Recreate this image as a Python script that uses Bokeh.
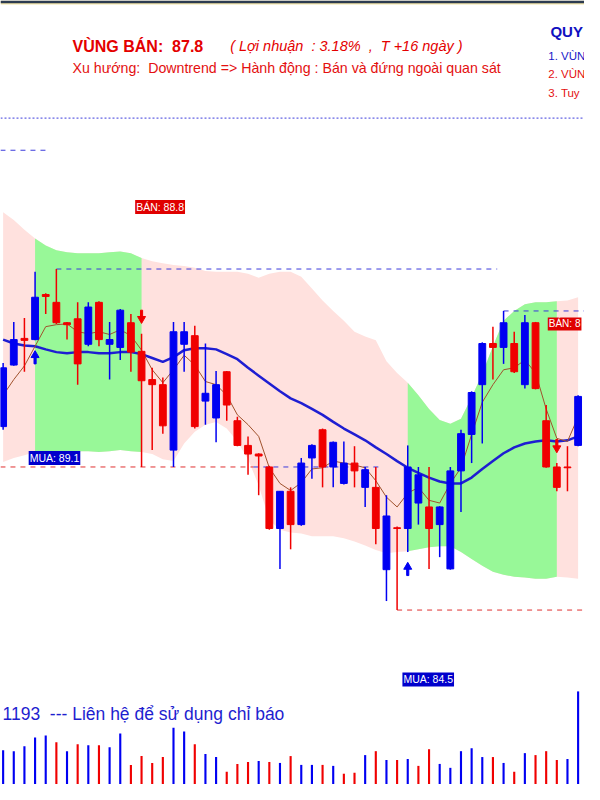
from bokeh.plotting import figure
from bokeh.models import Range1d, Label, Span, BoxAnnotation, ColumnDataSource
from bokeh.embed import file_html
from bokeh.resources import INLINE

# ---------------- data ----------------
opens = [85.53, 87.10, 87.78, 87.75, 88.90, 88.70, 88.18, 88.28, 87.63, 88.70,
         87.63, 87.55, 88.18, 87.45, 86.73, 86.60, 84.93, 87.63, 87.85, 86.18,
         85.75, 86.93, 85.68, 85.05, 84.83, 84.50, 82.93, 83.88, 83.03, 84.73,
         85.45, 84.50, 84.08, 84.60, 83.98, 83.98, 81.88, 82.95, 82.93, 83.58,
         83.48, 83.03, 81.90, 84.40, 85.33, 86.60, 87.65, 87.55, 87.65, 86.60,
         88.18, 85.68, 84.50, 84.50, 85.05]
highs = [87.15, 88.20, 88.30, 89.48, 88.93, 89.55, 88.20, 88.70, 88.70, 88.73,
         88.20, 88.53, 88.40, 87.90, 87.03, 86.78, 88.20, 88.20, 88.10, 87.65,
         86.95, 86.95, 85.78, 85.28, 84.85, 84.53, 83.88, 83.98, 84.73, 85.08,
         85.48, 85.15, 85.15, 85.03, 84.50, 84.50, 83.78, 82.98, 85.05, 84.50,
         84.50, 83.50, 84.50, 85.45, 86.43, 87.68, 88.08, 88.48, 87.95, 88.38,
         88.20, 86.08, 84.60, 85.03, 86.33]
lows = [85.45, 87.08, 86.93, 87.73, 88.40, 88.15, 87.75, 86.60, 87.58, 87.58,
        86.73, 87.23, 86.93, 84.50, 84.93, 85.35, 84.50, 86.93, 85.48, 85.58,
        85.13, 85.68, 85.03, 84.30, 83.78, 82.90, 81.90, 82.40, 83.00, 84.20,
        83.98, 83.98, 84.05, 83.98, 83.48, 82.53, 81.08, 80.85, 82.33, 83.03,
        81.90, 82.20, 81.88, 83.35, 84.60, 85.10, 86.73, 87.13, 86.90, 86.50,
        86.48, 84.48, 83.88, 83.88, 85.03]
closes = [87.03, 87.75, 87.73, 88.83, 88.85, 88.18, 88.13, 87.13, 88.58, 87.75,
          87.75, 88.50, 87.43, 86.70, 86.60, 85.55, 87.95, 87.95, 85.53, 86.38,
          86.60, 86.08, 85.05, 84.83, 84.78, 82.93, 83.88, 83.03, 84.60, 85.05,
          84.50, 85.13, 84.60, 84.40, 84.43, 82.93, 83.25, 82.93, 84.50, 84.30,
          82.93, 83.48, 84.40, 85.35, 86.40, 87.65, 87.55, 88.18, 86.93, 88.18,
          86.50, 84.50, 83.98, 84.48, 86.30]
ma_fast = [86.33, 86.73, 87.08, 87.58, 88.08, 88.13, 88.15, 87.95, 87.90, 87.95,
           87.88, 88.00, 87.85, 87.48, 86.98, 86.65, 86.98, 87.35, 87.10, 86.68,
           86.60, 86.33, 85.83, 85.58, 85.28, 84.48, 84.08, 83.90, 84.10, 84.45,
           84.48, 84.65, 84.60, 84.55, 84.48, 84.15, 83.73, 83.48, 83.83, 83.98,
           83.65, 83.58, 84.08, 84.48, 85.33, 86.15, 86.60, 86.98, 87.03, 87.23,
           86.90, 85.98, 85.23, 85.15, 85.78]
ma_slow = [87.75, 87.65, 87.60, 87.58, 87.50, 87.43, 87.40, 87.43, 87.43, 87.40,
           87.40, 87.43, 87.43, 87.38, 87.28, 87.18, 87.30, 87.48, 87.53, 87.53,
           87.50, 87.38, 87.25, 87.03, 86.83, 86.63, 86.43, 86.25, 86.13, 85.98,
           85.83, 85.65, 85.48, 85.33, 85.18, 85.00, 84.83, 84.65, 84.48, 84.35,
           84.23, 84.13, 84.08, 84.08, 84.23, 84.45, 84.65, 84.85, 85.00, 85.10,
           85.15, 85.18, 85.15, 85.18, 85.28]
band_upper = [91.00, 90.80, 90.55, 90.33, 90.15, 90.03, 89.98, 89.95, 89.95, 89.95,
              89.98, 90.00, 89.95, 89.83, 89.75, 89.70, 89.65, 89.63, 89.58, 89.50,
              89.48, 89.48, 89.48, 89.43, 89.33, 89.43, 89.48, 89.48, 89.35, 89.05,
              88.75, 88.48, 88.23, 87.95, 87.83, 87.73, 87.20, 86.90, 86.65, 86.33,
              85.98, 85.70, 85.60, 85.73, 86.28, 86.88, 87.58, 88.23, 88.48, 88.65,
              88.70, 88.70, 88.73, 88.75, 88.83]
band_lower = [84.63, 84.73, 84.80, 84.88, 84.90, 84.88, 84.88, 84.90, 84.90, 84.88,
              84.90, 84.93, 84.90, 84.88, 84.83, 84.70, 84.65, 85.10, 85.40, 85.58,
              85.65, 85.48, 85.15, 84.70, 84.03, 83.15, 82.90, 82.83, 82.80, 82.73,
              82.73, 82.73, 82.68, 82.60, 82.50, 82.38, 82.30, 82.33, 82.35, 82.40,
              82.45, 82.48, 82.48, 82.33, 82.15, 81.98, 81.83, 81.75, 81.70, 81.68,
              81.65, 81.65, 81.70, 81.68, 81.65]
volume = [350, 340, 390, 480, 500, 430, 340, 410, 400, 400,
          380, 520, 200, 290, 220, 280, 580, 540, 410, 310,
          280, 130, 210, 230, 240, 230, 220, 290, 200, 200,
          200, 190, 110, 120, 300, 340, 250, 250, 260, 190,
          360, 210, 170, 340, 370, 280, 280, 220, 130, 320,
          300, 340, 250, 260, 950]
vol_up = [1, 1, 1, 1, 1, 0, 1, 0, 1, 0,
          1, 1, 0, 0, 0, 0, 1, 1, 0, 1,
          1, 0, 0, 0, 1, 0, 1, 0, 1, 1,
          0, 1, 0, 0, 1, 0, 1, 0, 1, 0,
          0, 1, 1, 1, 1, 1, 0, 1, 0, 1,
          0, 0, 0, 1, 1]

buy_bars = [3, 38]
buy_prices = [89.1, 84.5]
sell_bars = [13, 52]
sell_prices = [88.8, 87.8]

# horizontal level lines: level, from bar, to bar, colour
level_vals = [92.58, 89.55, 88.48, 84.50, 84.50, 80.85]
level_from = [-0.25, 5, 47, -0.25, 23.5, 37]
level_to = [4.3, 46.4, 54.6, 23.5, 35.4, 54.6]
level_col = ["blue", "blue", "blue", "red", "blue", "red"]
top_line = 93.4

NB = "\u00a0"
header_title = f"VÙNG BÁN:{NB}{NB}87.8"
header_profit = f"({NB}Lợi nhuận{NB}{NB}:{NB}3.18%{NB}{NB},{NB}{NB}T{NB}+16 ngày{NB})"
header_trend = f"Xu hướng:{NB}{NB}Downtrend => Hành động : Bán và đứng ngoài quan sát"
rules_title = "QUY"
rules = ["1. VÙN", "2. VÙN", "3. Tuy"]
footer = f"1193{NB}{NB}--- Liên hệ để sử dụng chỉ báo"
last_tag = "BÁN: 8"

# ---------------- styling ----------------
BLUE = "#0000F2"
RED = "#F00000"
PINK = "#FFE1DE"
GREEN = "#98F898"
FONT = "Liberation Sans"
col = {"blue": "#3A3ADC", "red": "#E03030"}
dy = 0.15  # text lift

n = len(opens)
idx = list(range(n))

p = figure(width=584, height=784, output_backend="svg", toolbar_location=None,
           x_range=Range1d(-0.247, 54.6), y_range=Range1d(76.4, 96.4),
           x_axis_type=None, y_axis_type=None, min_border=0,
           background_fill_color="white", border_fill_color="white",
           outline_line_color=None)
p.xgrid.visible = False
p.ygrid.visible = False
p.extra_y_ranges = {"vol": Range1d(0, 8000)}

# top window border
p.add_layout(BoxAnnotation(bottom=96.30, fill_color="#F3E6A8", fill_alpha=1, line_alpha=0))
p.add_layout(BoxAnnotation(bottom=96.33, fill_color="#2C3B50", fill_alpha=1, line_alpha=0))
p.add_layout(Span(location=top_line, dimension="width", line_color="#3C3CDC",
                  line_dash="2 2", line_width=1))

# band
p.varea(x=idx, y1=band_lower, y2=band_upper, fill_color=PINK)
for b, s in zip(buy_bars, sell_bars):
    p.varea(x=idx[b:s + 1], y1=band_lower[b:s + 1], y2=band_upper[b:s + 1], fill_color=GREEN)

# level lines
for v, a, z, c in zip(level_vals, level_from, level_to, level_col):
    p.segment(x0=[a], y0=[v], x1=[z], y1=[v], line_color=col[c], line_dash="5 5", line_width=1)

# moving averages
p.line(idx, ma_slow, line_color="#1E1ED2", line_width=2.5)
p.line(idx, ma_fast, line_color="#A0522D", line_width=1)

# candles
colors = [BLUE if c > o else RED for o, c in zip(opens, closes)]
src = ColumnDataSource(dict(x=idx, o=opens, h=highs, l=lows, c=closes,
                            top=[max(o, c) for o, c in zip(opens, closes)],
                            bot=[min(o, c) for o, c in zip(opens, closes)],
                            color=colors))
p.segment(x0="x", y0="l", x1="x", y1="h", line_color="color", line_width=1.5, source=src)
p.vbar(x="x", width=0.64, top="top", bottom="bot", fill_color="color",
       line_color="color", line_width=1, source=src)

# volume
vsrc = ColumnDataSource(dict(x=idx, v=volume, color=[BLUE if u else RED for u in vol_up]))
p.vbar(x="x", width=0.2, top="v", bottom=0, fill_color="color", line_color=None,
       y_range_name="vol", source=vsrc)

# signal arrows
off = 0.3
bx = buy_bars
btip = [lows[b] - off for b in bx]
p.scatter(x=bx, y=[t - 0.08 for t in btip], marker="triangle", size=8, color=BLUE)
p.vbar(x=bx, width=0.2, top=[t - 0.12 for t in btip], bottom=[t - 0.3 for t in btip], color=BLUE)
sx = sell_bars
stip = [highs[s] + off for s in sx]
p.scatter(x=sx, y=[t + 0.08 for t in stip], marker="inverted_triangle", size=8, color=RED)
p.vbar(x=sx, width=0.2, bottom=[t + 0.12 for t in stip], top=[t + 0.3 for t in stip], color=RED)

# signal tags
tag_pos = [(2.4, 84.58), (37.5, 78.93)]
for (tx, ty), v in zip(tag_pos, buy_prices):
    p.add_layout(Label(x=tx, y=ty + dy, text=f"MUA: {v}", text_font=FONT, text_font_size="10.5px",
                       text_color="white", background_fill_color="#0000CC",
                       text_baseline="alphabetic", padding=1))
p.add_layout(Label(x=12.4, y=90.98 + dy, text=f"BÁN: {sell_prices[0]}", text_font=FONT,
                   text_font_size="10.5px", text_color="white", background_fill_color="#E00000",
                   text_baseline="alphabetic", padding=1))
p.add_layout(Label(x=51.15, y=88.0 + dy, text=last_tag, text_font=FONT,
                   text_font_size="10px", text_color="white", background_fill_color="#E00000",
                   text_baseline="alphabetic", padding=1))

# header texts
def lab(x, y, t, size, color, style="normal"):
    p.add_layout(Label(x=x, y=y + dy, text=t, text_font=FONT, text_font_size=size,
                       text_color=color, text_font_style=style, text_baseline="alphabetic"))

lab(6.52, 95.08, header_title, "16px", "#E40000", "bold")
lab(21.32, 95.1, header_profit, "14.5px", "#E40000", "italic")
lab(6.52, 94.53, header_trend, "14.2px", "#E41010")
lab(51.4, 95.45, rules_title, "15px", "#1010C0", "bold")
lab(51.2, 94.83, rules[0], "11.5px", "#1818C8")
lab(51.2, 94.38, rules[1], "11.5px", "#E41010")
lab(51.2, 93.9, rules[2], "11.5px", "#E41010")
lab(-0.06, 78.05, footer, "17.5px", "#1E1ECF")

open("out.html", "w").write(file_html(p, INLINE))
